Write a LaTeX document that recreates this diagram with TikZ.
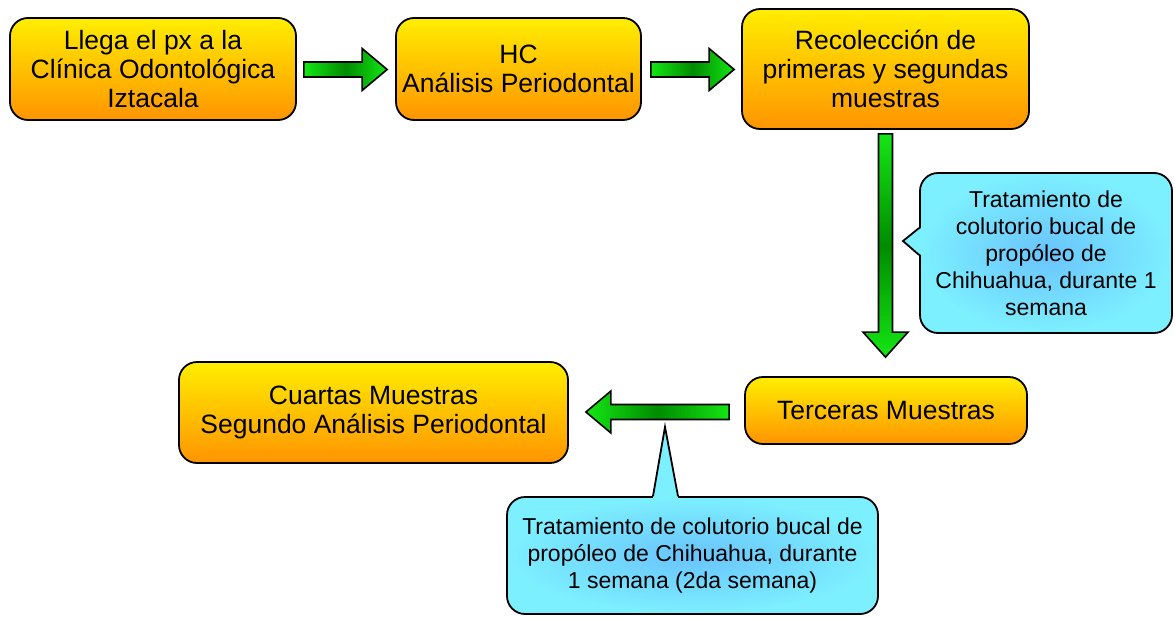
\documentclass[tikz,border=0pt]{standalone}
\usepackage{fontspec}
\setmainfont{Liberation Sans}
\usetikzlibrary{calc}

\definecolor{amarillo}{RGB}{255,238,0}
\definecolor{naranja}{RGB}{255,148,0}
\definecolor{verdeclaro}{RGB}{20,230,20}
\definecolor{verdeoscuro}{RGB}{0,140,0}
\definecolor{celeste}{RGB}{125,240,255}
\definecolor{azulito}{RGB}{105,195,252}

\tikzset{
  caja/.style={draw=black, line width=1.8pt, rounded corners=18pt,
    top color=amarillo, bottom color=naranja, align=center, inner sep=2pt,
    font=\fontsize{26.5}{29}\selectfont},
  globo/.style={draw=black, line width=1.8pt, rounded corners=18pt,
    inner color=azulito, outer color=celeste, align=center, inner sep=2pt,
    font=\fontsize{23}{27}\selectfont},
  flecha/.style={draw=black, line width=1.6pt, line join=miter}
}

% flecha de bloque horizontal: #1 inicio, #2 punta
\newcommand{\flechaH}[2]{%
  \path[flecha, left color=verdeclaro, right color=verdeclaro, middle color=verdeoscuro]
    let \p1=(#1), \p2=(#2), \n1={ifthenelse(\x2>\x1,1,-1)} in
    (\x1,\y1+7.5pt) -- ({\x2-(\n1)*25pt},\y1+7.5pt) -- ({\x2-(\n1)*25pt},\y1+21pt)
    -- (\x2,\y1) -- ({\x2-(\n1)*25pt},\y1-21pt) -- ({\x2-(\n1)*25pt},\y1-7.5pt)
    -- (\x1,\y1-7.5pt) -- cycle;}
% flecha de bloque vertical
\newcommand{\flechaV}[2]{%
  \path[flecha, top color=verdeclaro, bottom color=verdeclaro, middle color=verdeoscuro]
    let \p1=(#1), \p2=(#2), \n1={ifthenelse(\y2>\y1,1,-1)} in
    (\x1+7pt,\y1) -- (\x1+7pt,{\y2-(\n1)*25pt}) -- (\x1+22.5pt,{\y2-(\n1)*25pt})
    -- (\x1,\y2) -- (\x1-22.5pt,{\y2-(\n1)*25pt}) -- (\x1-7pt,{\y2-(\n1)*25pt})
    -- (\x1-7pt,\y1) -- cycle;}

\begin{document}
\begin{tikzpicture}[x=1pt, y=-1pt]
        \useasboundingbox (0,0) rectangle (1175,616);

        % cajas
        \node[caja, minimum width=286pt, minimum height=102pt] (px) at (153,69)
          {Llega el px a la\\Clínica Odontológica\\Iztacala};
        \node[caja, minimum width=245pt, minimum height=102pt] (hc) at (518.5,69)
          {HC\\Análisis Periodontal};
        \node[caja, minimum width=287pt, minimum height=120pt] (rec) at (885.5,69)
          {Recolección de\\primeras y segundas\\muestras};
        \node[caja, minimum width=282pt, minimum height=67pt] (ter) at (886,410.5)
          {Terceras Muestras};
        \node[caja, minimum width=389pt, minimum height=101pt] (cua) at (373.5,412.5)
          {Cuartas Muestras\\Segundo Análisis Periodontal};

        % flechas
        \flechaH{$(px.east)+(7,0.5)$}{$(hc.west)+(-8,0.5)$}
        \flechaH{$(hc.east)+(9,0.5)$}{$(rec.west)+(-7,0.5)$}
        \flechaV{$(rec.south)+(0,4)$}{$(ter.north)+(0,-19)$}
        \flechaH{$(ter.west)+(-15,1.5)$}{$(cua.east)+(17,-0.5)$}

        % globos
        \node[globo, minimum width=252pt, minimum height=160pt] (trat1) at (1046,253)
          {Tratamiento de\\colutorio bucal de\\propóleo de\\Chihuahua, durante 1\\semana};
        \coordinate (punta1) at (903,241);
        \fill[celeste] ($(trat1.west)+(2,-25)$) -- (punta1) -- ($(trat1.west)+(2,2)$) -- cycle;
        \draw[line width=1.8pt, line join=miter] ($(trat1.west)+(0,-25)$) -- (punta1) -- ($(trat1.west)+(0,2)$);

        \node[globo, minimum width=371pt, minimum height=117pt] (trat2) at (692.5,555.5)
          {Tratamiento de colutorio bucal de\\propóleo de Chihuahua, durante\\1 semana (2da semana)};
        \coordinate (punta2) at (665,427);
        \fill[celeste] ($(trat2.north)+(-39.5,2)$) -- (punta2) -- ($(trat2.north)+(-14.5,2)$) -- cycle;
        \draw[line width=1.8pt, line join=miter] ($(trat2.north)+(-39.5,0)$) -- (punta2) -- ($(trat2.north)+(-14.5,0)$);
\end{tikzpicture}
\end{document}
